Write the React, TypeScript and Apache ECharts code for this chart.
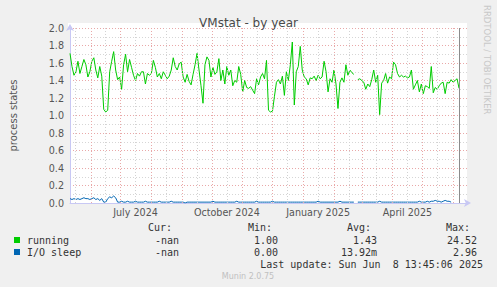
import React, { useEffect, useRef } from "react";
import * as echarts from "echarts";

// Time base: first sample of the graph (left edge of the plot)
const START_UTC = Date.UTC(2024, 4, 11);
const DAY_MS = 86400000;
const SAMPLE_STEP_DAYS = 2;
const AXIS_SPAN_DAYS = 400;

const dayOf = (d: number[]) => (Date.UTC(d[0], d[1] - 1, d[2]) - START_UTC) / DAY_MS;

// process states, one sample every 2 days
const runningValues: (number | null)[] = [
  1.71, 1.56, 1.46, 1.5, 1.62, 1.48, 1.56, 1.64, 1.58, 1.44,
  1.5, 1.62, 1.66, 1.52, 1.43, 1.56, 1.45, 1.07, 1.04, 1.06,
  1.5, 1.62, 1.73, 1.52, 1.41, 1.44, 1.3, 1.58, 1.7, 1.5,
  1.64, 1.55, 1.46, 1.4, 1.48, 1.45, 1.5,
  1.5, 1.36, 1.48, 1.46, 1.48, 1.63, 1.55, 1.44, 1.48, 1.42,
  1.5, 1.46, 1.42, 1.45, 1.52, 1.66, 1.56, 1.52, 1.59, 1.61,
  1.44, 1.38, 1.47, 1.39, 1.35, 1.47, 1.58, 1.71, 1.52, 1.34,
  1.14, 1.58, 1.67, 1.63, 1.44, 1.55, 1.47, 1.5,
  1.65, 1.4, 1.52, 1.36, 1.56, 1.46, 1.52, 1.34, 1.4, 1.38,
  1.56, 1.47, 1.27, 1.4, 1.32, 1.31, 1.33, 1.29, 1.25, 1.42,
  1.35, 1.44, 1.48, 1.42, 1.63, 1.06, 1.04, 1.05, 1.22, 1.38,
  1.41, 1.36, 1.45, 1.23, 1.5, 1.4, 1.58,
  1.84, 1.12, 1.5, 1.56, 1.79, 1.52, 1.44, 1.42, 1.35, 1.43,
  1.42, 1.45, 1.4, 1.46, 1.42, 1.44, 1.62, 1.5, 1.27, 1.42,
  1.38, 1.52, 1.36, 1.08, 1.38, 1.43, 1.38, 1.58, 1.46, 1.52,
  1.49, 1.47, null, 1.41, 1.42, 1.4, 1.38, 1.3,
  1.36, 1.33, 1.41, 1.52, 1.38, 1.46, 1.01, 1.37, 1.4, 1.48,
  1.37, 1.44, 1.42, 1.61, 1.58, 1.48, 1.44, 1.46, 1.44, 1.45,
  1.43, 1.44, 1.52, 1.3, 1.35, 1.4, 1.27, 1.36, 1.25, 1.34,
  1.33, 1.31, 1.56, 1.26, 1.32, 1.3, 1.34, 1.37,
  1.38, 1.25, 1.38, 1.37, 1.41, 1.38, 1.4, 1.42, 1.31,
];

const ioSleepValues: (number | null)[] = [
  0.05, 0.04, 0.05, 0.04, 0.05, 0.04, 0.05, 0.06, 0.05, 0.05,
  0.04, 0.05, 0.06, 0.04, 0.05, 0.03, 0.05,
  0.01, 0.01, 0.05, 0.07, 0.06, 0.08, 0.06, 0.01, 0.01, 0.02,
  0.01, 0.01, 0.02, 0.01, 0.01, 0.01, 0.02, 0.01, 0.01, 0.01,
  0.01, 0.02, 0.01, 0.01, 0.01, 0.01, 0.01, 0.01, 0.02, 0.01,
  0.01, 0.01, 0.01, 0.01, 0.02, 0.01, 0.01, 0.01, 0.01, 0.01,
  0.01, 0.0, 0.01, 0.01, 0.01, 0.01, 0.01, 0.01, 0.01, 0.01,
  0.01, 0.01, 0.01, 0.01, 0.01, 0.02, 0.01, 0.01,
  0.01, 0.01, 0.01, 0.01, 0.01, 0.01, 0.01, 0.01, 0.01, 0.02,
  0.01, 0.01, 0.01, 0.01, 0.01, 0.01, 0.01, 0.01, 0.01, 0.02,
  0.01, 0.01, 0.01, 0.01, 0.01, 0.01, 0.01, 0.02, 0.01, 0.01,
  0.01, 0.01, 0.01, 0.01, 0.01, 0.01, 0.01,
  0.01, 0.01, 0.01, 0.01, 0.01, 0.01, 0.01, 0.01, 0.01, 0.01,
  0.01, 0.01, 0.01, 0.02, 0.01, 0.01, 0.01, 0.01, 0.01, 0.01,
  0.01, 0.01, 0.01, 0.01, 0.02, 0.01, 0.01, 0.01, 0.01, 0.01,
  0.01, 0.01, null, 0.01, 0.01, 0.01, 0.01, 0.01,
  0.01, 0.01, 0.01, 0.01, 0.01, 0.01, 0.02, 0.01, 0.01, 0.01,
  0.01, 0.01, 0.01, 0.01, 0.01, 0.01, 0.01, 0.01, 0.01, 0.01,
  0.01, 0.01, 0.01, 0.01, 0.01, 0.01, 0.02, 0.01, 0.01, 0.01,
  0.02, 0.01, 0.02, 0.02, 0.03, 0.02, 0.02, 0.01,
  0.02, 0.03, 0.02, 0.02, 0.01, null, null, null, null,
];

// X axis labels (rrdtool centres month labels mid-month)
const xLabelDates = [[2024, 7, 16], [2024, 10, 16], [2025, 1, 16], [2025, 4, 16]];
const xLabelTexts = ["July 2024", "October 2024", "January 2025", "April 2025"];
const monthStartDates = [
  [2024, 6, 1], [2024, 7, 1], [2024, 8, 1], [2024, 9, 1], [2024, 10, 1], [2024, 11, 1],
  [2024, 12, 1], [2025, 1, 1], [2025, 2, 1], [2025, 3, 1], [2025, 4, 1], [2025, 5, 1], [2025, 6, 1],
];
const midMonthDates = [
  [2024, 5, 16], [2024, 6, 16], [2024, 7, 16], [2024, 8, 16], [2024, 9, 16], [2024, 10, 16],
  [2024, 11, 16], [2024, 12, 16], [2025, 1, 16], [2025, 2, 16], [2025, 3, 16], [2025, 4, 16], [2025, 5, 16],
];
const nowDate = [2025, 6, 8];

const yTickValues = [0, 0.2, 0.4, 0.6, 0.8, 1.0, 1.2, 1.4, 1.6, 1.8, 2.0];

const legendHeaders = ["Cur:", "Min:", "Avg:", "Max:"];
const seriesNames = ["running", "I/O sleep"];
const runningStats = ["-nan", "1.00", "1.43", "24.52"];
const ioSleepStats = ["-nan", "0.00", "13.92m", "2.96"];
const lastUpdate = "Last update: Sun Jun  8 13:45:06 2025";

const GREEN = "#00cc00";
const BLUE = "#0066b3";

export default function App() {
  const ref = useRef<HTMLDivElement>(null);

  useEffect(() => {
    if (!ref.current) return;
    const chart = echarts.init(ref.current, undefined, { renderer: "svg" });

    const runningData = runningValues.map((v, i) => [i * SAMPLE_STEP_DAYS, v]);
    const ioData = ioSleepValues.map((v, i) => [i * SAMPLE_STEP_DAYS, v]);
    const labelDays = xLabelDates.map(dayOf);

    const mono = "DejaVu Sans Mono";
    const txt = (text: string, x: number, y: number, align: string, extra: any = {}) => ({
      type: "text",
      x,
      y,
      silent: true,
      style: {
        text,
        fill: "#333",
        font: `10px '${mono}'`,
        textAlign: align,
        textVerticalAlign: "middle",
        ...extra,
      },
    });

    const statCols = [179, 278, 377, 477];
    const headerCols = [172, 272, 371, 470];

    const graphics: any[] = [
      { type: "rect", shape: { x: 68, y: 23, width: 399, height: 5 }, style: { fill: "#fff" }, silent: true, z: -1 },
      ...legendHeaders.map((h, i) => txt(h, headerCols[i], 227, "right")),
      { type: "rect", shape: { x: 14, y: 237, width: 6, height: 6 }, style: { fill: GREEN }, silent: true },
      { type: "rect", shape: { x: 14, y: 249, width: 6, height: 6 }, style: { fill: BLUE }, silent: true },
      txt(seriesNames[0], 27, 240, "left"),
      txt(seriesNames[1], 27, 252, "left"),
      ...runningStats.map((s, i) => txt(s, statCols[i], 240, "right")),
      ...ioSleepStats.map((s, i) => txt(s, statCols[i], 252, "right")),
      txt(lastUpdate, 483, 264, "right", { whiteSpace: "pre" }),
      txt("Munin 2.0.75", 248, 276, "center", { fill: "#c0c0c0", font: "8px 'DejaVu Sans'" }),
      {
        type: "text",
        x: 487,
        y: 5,
        rotation: -Math.PI / 2,
        silent: true,
        style: {
          text: "RRDTOOL / TOBI OETIKER",
          fill: "#c8c8c8",
          font: "8.5px 'DejaVu Sans'",
          textAlign: "left",
          textVerticalAlign: "middle",
        },
      },
    ];

    const gridLines = [
      ...midMonthDates.map((d) => ({
        xAxis: dayOf(d),
        lineStyle: { color: "#d2d2d2", type: [1, 2], width: 1 },
      })),
      ...monthStartDates.map((d) => ({
        xAxis: dayOf(d),
        lineStyle: { color: "#e9a8a8", type: [1, 2], width: 1 },
      })),
    ];

    chart.setOption({
      animation: false,
      backgroundColor: "#f0f0f0",
      title: {
        text: "VMstat - by year",
        left: "center",
        top: 12,
        textStyle: { fontFamily: "DejaVu Sans", fontSize: 12, fontWeight: "normal", color: "#4a4a4a" },
      },
      grid: {
        left: 67,
        top: 28,
        width: 400,
        height: 175,
        show: true,
        backgroundColor: "#ffffff",
        borderWidth: 0,
      },
      xAxis: {
        type: "value",
        min: 0,
        max: AXIS_SPAN_DAYS,
        axisLine: {
          show: true,
          lineStyle: { color: "#c8c8f4", width: 1 },
          symbol: ["none", "arrow"],
          symbolSize: [6, 7],
          symbolOffset: [0, 4],
        },
        axisTick: { show: false },
        splitLine: { show: false },
        axisLabel: {
          customValues: labelDays,
          formatter: (v: number) => {
            const i = labelDays.findIndex((d) => Math.abs(d - v) < 0.01);
            return i >= 0 ? xLabelTexts[i] : "";
          },
          color: "#555",
          fontFamily: "DejaVu Sans",
          fontSize: 9.6,
          margin: 4,
          hideOverlap: false,
        },
      },
      yAxis: {
        type: "value",
        min: 0,
        max: 2,
        interval: 0.2,
        name: "process states",
        nameLocation: "middle",
        nameGap: 52,
        nameRotate: 90,
        nameTextStyle: { color: "#555", fontFamily: "DejaVu Sans", fontSize: 10 },
        axisLine: {
          show: true,
          lineStyle: { color: "#c8c8f4", width: 1 },
          symbol: ["none", "arrow"],
          symbolSize: [6, 7],
          symbolOffset: [0, 4],
        },
        axisTick: { show: false },
        axisLabel: {
          customValues: yTickValues,
          formatter: (v: number) => v.toFixed(1),
          color: "#555",
          fontFamily: "DejaVu Sans",
          fontSize: 9.6,
          margin: 6,
        },
        splitLine: { show: true, lineStyle: { color: "#e9a8a8", type: [1, 2], width: 1 } },
        minorTick: { show: false, splitNumber: 2 },
        minorSplitLine: { show: true, lineStyle: { color: "#d6d6d6", type: [1, 2], width: 1 } },
      },
      series: [
        {
          type: "line",
          name: "grid",
          data: [],
          silent: true,
          z: 1,
          markLine: {
            silent: true,
            symbol: ["none", "none"],
            label: { show: false },
            emphasis: { disabled: true },
            data: gridLines,
          },
        },
        {
          type: "line",
          name: seriesNames[0],
          data: runningData,
          showSymbol: false,
          connectNulls: false,
          lineStyle: { color: GREEN, width: 1 },
          itemStyle: { color: GREEN },
          z: 3,
        },
        {
          type: "line",
          name: seriesNames[1],
          data: ioData,
          showSymbol: false,
          connectNulls: false,
          lineStyle: { color: BLUE, width: 1 },
          itemStyle: { color: BLUE },
          z: 3,
          markLine: {
            silent: true,
            symbol: ["none", "none"],
            label: { show: false },
            emphasis: { disabled: true },
            data: [{ xAxis: dayOf(nowDate) - 0.5, lineStyle: { color: "#8c8c8c", type: "solid", width: 1 } }],
          },
        },
      ],
      graphic: graphics,
    });

    return () => chart.dispose();
  }, []);

  return (
    <div
      ref={ref}
      style={{ position: "fixed", left: 0, top: 0, width: 497, height: 287 }}
    />
  );
}
